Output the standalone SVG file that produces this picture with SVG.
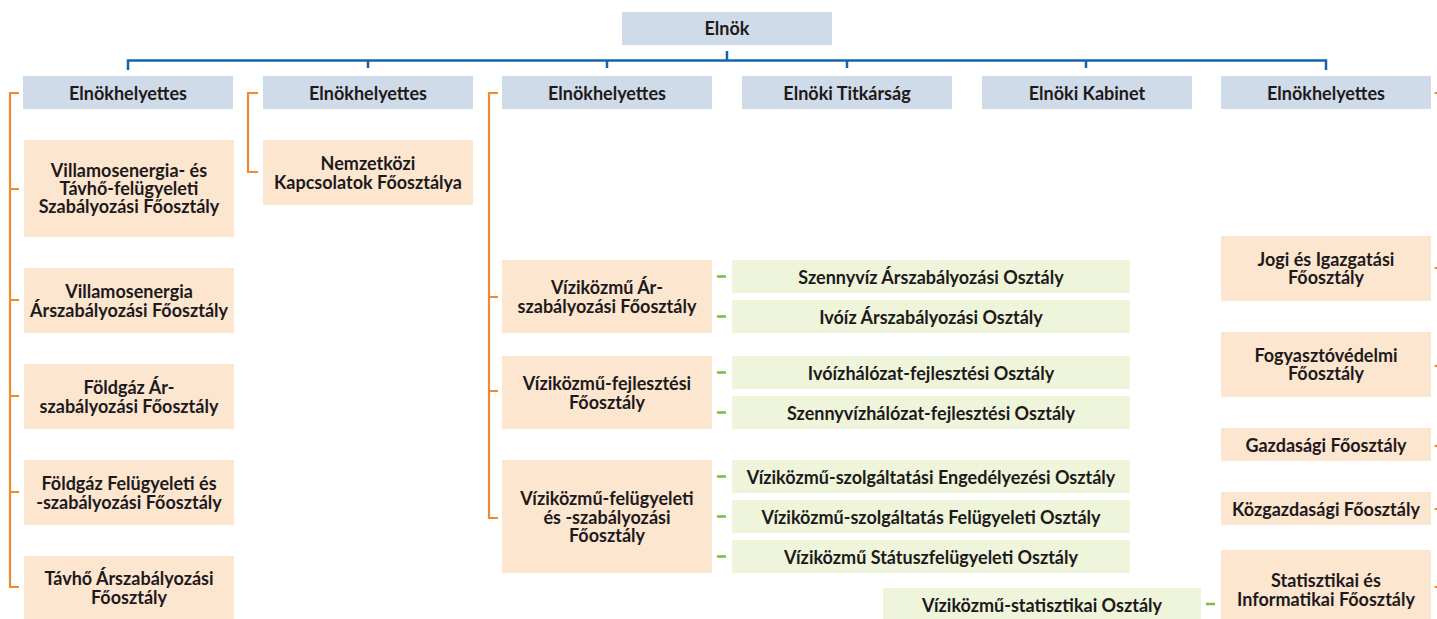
<svg xmlns="http://www.w3.org/2000/svg" width="1437" height="619" viewBox="0 0 1437 619">
<style>
.b{fill:#cfdbe8}
.p{fill:#fce6d0}
.g{fill:#eef5da}
text{font-family:Lato,"Open Sans","Liberation Sans",sans-serif;font-weight:700;font-size:18px;fill:#1e1a1b;text-anchor:middle}
.bl{fill:none;stroke:#1763a6;stroke-width:2.5}
.or{fill:none;stroke:#ef8a32;stroke-width:2.2}
.gr{fill:none;stroke:#7dbb42;stroke-width:2.4}
</style>
<rect width="1437" height="619" fill="#ffffff"/>
<g id="connectors">
<path class="bl" d="M727,51V60.5M128,70V60.5H1326V70M368,60.5V68M607,60.5V68M847,60.5V68M1086,60.5V68"/>
<path class="or" d="M19,93H10V587H19M10,189H19M10,300H19M10,396H19M10,492H19"/>
<path class="or" d="M258,93H248V172H258"/>
<path class="or" d="M498,93H489V518H498M489,297H498M489,391H498"/>
<path class="or" d="M1434.5,93H1437M1434.5,268H1437M1434.5,366H1437M1434.5,446H1437M1434.5,509H1437M1434.5,587H1437"/>
<path class="gr" d="M717,276.5H726M717,316.5H726M717,372.5H726M717,412.5H726M717,476.5H726M717,516.5H726M717,556.5H726M1206,604H1215"/>
</g>
<g id="n-elnok"><rect class="b" x="622" y="12" width="210" height="33"/><text x="727" y="35">Elnök</text></g>
<g id="n-eh1"><rect class="b" x="23" y="76" width="210" height="33"/><text x="128" y="99.5">Elnökhelyettes</text></g>
<g id="n-eh2"><rect class="b" x="263" y="76" width="210" height="33"/><text x="368" y="99.5">Elnökhelyettes</text></g>
<g id="n-eh3"><rect class="b" x="502" y="76" width="210" height="33"/><text x="607" y="99.5">Elnökhelyettes</text></g>
<g id="n-titk"><rect class="b" x="742" y="76" width="210" height="33"/><text x="847" y="99.5">Elnöki Titkárság</text></g>
<g id="n-kab"><rect class="b" x="982" y="76" width="210" height="33"/><text x="1087" y="99.5">Elnöki Kabinet</text></g>
<g id="n-eh6"><rect class="b" x="1221" y="76" width="210" height="33"/><text x="1326" y="99.5">Elnökhelyettes</text></g>

<g id="n-vet"><rect class="p" x="24" y="140" width="210" height="97"/><text x="129" y="176.7">Villamosenergia- és</text><text x="129" y="195">Távhő-felügyeleti</text><text x="129" y="213.3">Szabályozási Főosztály</text></g>
<g id="n-vea"><rect class="p" x="24" y="268" width="210" height="65"/><text x="129" y="298.3">Villamosenergia</text><text x="129" y="316.7">Árszabályozási Főosztály</text></g>
<g id="n-fga"><rect class="p" x="24" y="364" width="210" height="65"/><text x="129" y="394.3">Földgáz Ár-</text><text x="129" y="412.7">szabályozási Főosztály</text></g>
<g id="n-fgf"><rect class="p" x="24" y="460" width="210" height="65"/><text x="129" y="490.3">Földgáz Felügyeleti és</text><text x="129" y="508.7">-szabályozási Főosztály</text></g>
<g id="n-tha"><rect class="p" x="24" y="556" width="210" height="63"/><text x="129" y="585.3">Távhő Árszabályozási</text><text x="129" y="603.7">Főosztály</text></g>

<g id="n-nemz"><rect class="p" x="263" y="140" width="210" height="65"/><text x="368" y="170.3">Nemzetközi</text><text x="368" y="188.7">Kapcsolatok Főosztálya</text></g>

<g id="n-vka"><rect class="p" x="502" y="260" width="210" height="73"/><text x="607" y="294">Víziközmű Ár-</text><text x="607" y="312.5">szabályozási Főosztály</text></g>
<g id="n-vkf"><rect class="p" x="502" y="356" width="210" height="73"/><text x="607" y="390">Víziközmű-fejlesztési</text><text x="607" y="408.5">Főosztály</text></g>
<g id="n-vkfsz"><rect class="p" x="502" y="460" width="210" height="113"/><text x="607" y="505">Víziközmű-felügyeleti</text><text x="607" y="523.5">és -szabályozási</text><text x="607" y="542">Főosztály</text></g>

<g id="n-o1"><rect class="g" x="732" y="260" width="398" height="33"/><text x="931" y="283.5">Szennyvíz Árszabályozási Osztály</text></g>
<g id="n-o2"><rect class="g" x="732" y="300" width="398" height="33"/><text x="931" y="323.5">Ivóíz Árszabályozási Osztály</text></g>
<g id="n-o3"><rect class="g" x="732" y="356" width="398" height="33"/><text x="931" y="379.5">Ivóízhálózat-fejlesztési Osztály</text></g>
<g id="n-o4"><rect class="g" x="732" y="396" width="398" height="33"/><text x="931" y="419.5">Szennyvízhálózat-fejlesztési Osztály</text></g>
<g id="n-o5"><rect class="g" x="732" y="460" width="398" height="33"/><text x="931" y="483.5">Víziközmű-szolgáltatási Engedélyezési Osztály</text></g>
<g id="n-o6"><rect class="g" x="732" y="500" width="398" height="33"/><text x="931" y="523.5">Víziközmű-szolgáltatás Felügyeleti Osztály</text></g>
<g id="n-o7"><rect class="g" x="732" y="540" width="398" height="33"/><text x="931" y="563.5">Víziközmű Státuszfelügyeleti Osztály</text></g>
<g id="n-o8"><rect class="g" x="883" y="588" width="318" height="31"/><text x="1042" y="611.5">Víziközmű-statisztikai Osztály</text></g>

<g id="n-jogi"><rect class="p" x="1221" y="236" width="210" height="65"/><text x="1326" y="265.5">Jogi és Igazgatási</text><text x="1326" y="284">Főosztály</text></g>
<g id="n-fogy"><rect class="p" x="1221" y="332" width="210" height="65"/><text x="1326" y="361.5">Fogyasztóvédelmi</text><text x="1326" y="380">Főosztály</text></g>
<g id="n-gazd"><rect class="p" x="1221" y="428" width="210" height="33"/><text x="1326" y="451.5">Gazdasági Főosztály</text></g>
<g id="n-kozg"><rect class="p" x="1221" y="492" width="210" height="33"/><text x="1326" y="515.5">Közgazdasági Főosztály</text></g>
<g id="n-stat"><rect class="p" x="1221" y="550" width="210" height="69"/><text x="1326" y="587.3">Statisztikai és</text><text x="1326" y="605.7">Informatikai Főosztály</text></g>
</svg>
